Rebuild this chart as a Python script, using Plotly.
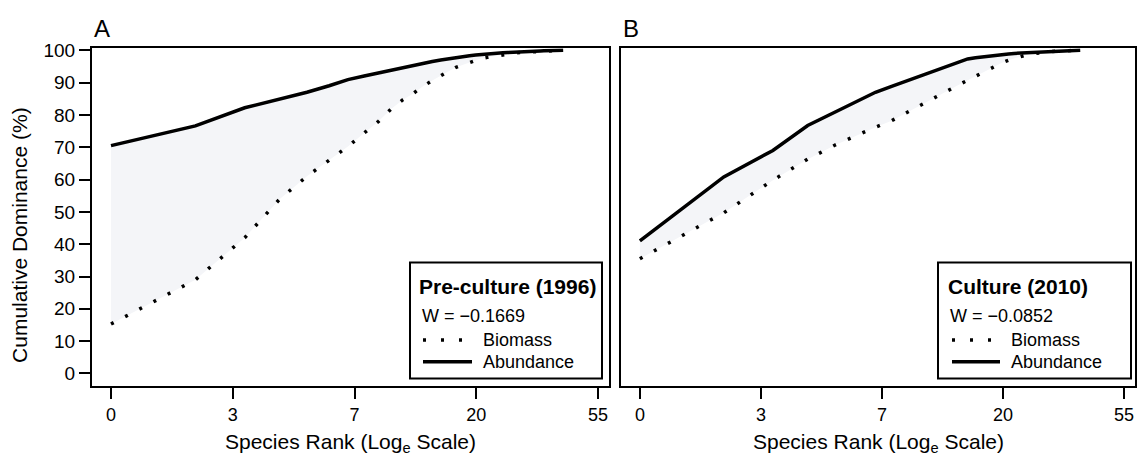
import math
import plotly.graph_objects as go

W, H = 1137, 457

# ---------------- data ----------------
rank_A = list(range(1, 42))
abundance_A = [70.5, 76.6, 82.2, 84.8, 87.0, 89.0, 90.9, 92.0, 93.0, 93.8,
               94.6, 95.3, 95.9, 96.5, 97.0, 97.4, 97.8, 98.1, 98.3, 98.5,
               98.7, 98.85, 99.0, 99.1, 99.2, 99.3, 99.4, 99.45, 99.5, 99.55,
               99.6, 99.65, 99.7, 99.75, 99.8, 99.85, 99.88, 99.91, 99.94, 99.97, 100.0]
biomass_A = [15.3, 29.0, 42.0, 54.0, 61.0, 66.1, 70.2, 74.4, 78.0, 81.9,
             84.7, 86.7, 88.9, 90.6, 92.2, 93.5, 94.7, 95.5, 96.2, 96.9,
             97.5, 97.8, 98.1, 98.4, 98.6, 98.9, 99.1, 99.2, 99.3, 99.4,
             99.5, 99.6, 99.65, 99.7, 99.75, 99.8, 99.85, 99.9, 99.93, 99.97, 100.0]

rank_B = list(range(1, 39))
abundance_B = [41.0, 60.8, 69.0, 76.7, 80.8, 84.3, 87.0, 88.8, 90.4, 91.6,
               92.9, 94.1, 95.2, 96.3, 97.3, 97.7, 98.0, 98.3, 98.5, 98.7,
               98.85, 99.0, 99.1, 99.2, 99.3, 99.4, 99.5, 99.55, 99.6, 99.65,
               99.7, 99.75, 99.8, 99.85, 99.9, 99.93, 99.96, 100.0]
biomass_B = [35.5, 49.7, 59.8, 66.3, 70.6, 73.7, 76.2, 78.2, 80.6, 82.7,
             84.7, 86.4, 88.0, 89.4, 90.7, 92.0, 93.2, 94.3, 95.3, 96.2,
             96.9, 97.5, 98.0, 98.4, 98.8, 99.0, 99.2, 99.4, 99.5, 99.6,
             99.7, 99.75, 99.8, 99.85, 99.9, 99.93, 99.96, 100.0]

x_tick_vals = [math.e ** k for k in range(5)]
x_tick_text = ["0", "3", "7", "20", "55"]
y_tick_vals = list(range(0, 101, 10))

panel_titles = ["Pre-culture (1996)", "Culture (2010)"]
w_stats = ["W = \u22120.1669", "W = \u22120.0852"]
panel_letters = ["A", "B"]

# ---------------- style ----------------
FONT = "Liberation Sans, Arial, Helvetica, sans-serif"
FILL = "#f4f5f8"
LW = 3.5
DOT = "3px,13px"


def px(x):
    return x / W


def py(y):
    return 1 - y / H


fig = go.Figure()

panels = [
    (rank_A, biomass_A, abundance_A, "x", "y"),
    (rank_B, biomass_B, abundance_B, "x2", "y2"),
]
for rk, bio, ab, xa, ya in panels:
    fig.add_trace(go.Scatter(x=rk, y=bio, mode="lines", xaxis=xa, yaxis=ya,
                             line=dict(color="black", width=LW, dash=DOT),
                             showlegend=False, hoverinfo="skip"))
    fig.add_trace(go.Scatter(x=rk, y=ab, mode="lines", xaxis=xa, yaxis=ya,
                             line=dict(color="black", width=LW),
                             fill="tonexty", fillcolor=FILL,
                             showlegend=False, hoverinfo="skip"))

x_range = [math.log10(math.exp(-0.156)), math.log10(math.exp(4.09))]
y_range = [-3.95, 100.6]
y_dom = [py(385), py(41)]

common_x = dict(type="log", range=x_range, tickvals=x_tick_vals, ticktext=x_tick_text,
                ticks="outside", ticklen=11, tickwidth=2, tickcolor="black",
                showline=True, linewidth=2, linecolor="black", mirror=True,
                showgrid=False, zeroline=False,
                tickfont=dict(family=FONT, size=18, color="black"))
common_y = dict(range=y_range, domain=y_dom, showline=True, linewidth=2,
                linecolor="black", mirror=True, showgrid=False, zeroline=False)

fig.update_layout(
    width=W, height=H,
    margin=dict(l=0, r=0, t=0, b=0),
    paper_bgcolor="white", plot_bgcolor="white",
    font=dict(family=FONT, color="black"),
    showlegend=False,
    xaxis=dict(domain=[px(92), px(609)], anchor="y", **common_x),
    xaxis2=dict(domain=[px(621), px(1135)], anchor="y2", **common_x),
    yaxis=dict(anchor="x", tickvals=y_tick_vals, ticks="outside", ticklen=11,
               tickwidth=2, tickcolor="black",
               tickfont=dict(family=FONT, size=19, color="black"), **common_y),
    yaxis2=dict(anchor="x2", showticklabels=False, ticks="", **common_y),
)

shapes = []
annotations = []

# legend boxes
legend_specs = [
    dict(box=(410, 259, 602, 377), head_x=417, w_x=420, samp_x=(423, 462, 472), txt_x=481),
    dict(box=(938, 259, 1131, 377), head_x=946, w_x=948, samp_x=(952, 991, 1000), txt_x=1009),
]
for i, spec in enumerate(legend_specs):
    x0, y0, x1, y1 = spec["box"]
    shapes.append(dict(type="rect", xref="paper", yref="paper",
                       x0=px(x0), x1=px(x1), y0=py(y1), y1=py(y0),
                       line=dict(color="black", width=2), fillcolor="white", layer="above"))
    annotations.append(dict(text="<b>" + panel_titles[i] + "</b>", xref="paper", yref="paper",
                            x=px(spec["head_x"]), y=py(283), xanchor="left", yanchor="middle",
                            showarrow=False, font=dict(family=FONT, size=21, color="black")))
    annotations.append(dict(text=w_stats[i], xref="paper", yref="paper",
                            x=px(spec["w_x"]), y=py(313), xanchor="left", yanchor="middle",
                            showarrow=False, font=dict(family=FONT, size=18, color="black")))
    sx0, sx1d, sx1s = spec["samp_x"]
    shapes.append(dict(type="line", xref="paper", yref="paper",
                       x0=px(sx0), x1=px(sx1d), y0=py(338), y1=py(338),
                       line=dict(color="black", width=LW, dash="3px,15px")))
    shapes.append(dict(type="line", xref="paper", yref="paper",
                       x0=px(sx0), x1=px(sx1s), y0=py(360), y1=py(360),
                       line=dict(color="black", width=LW)))
    annotations.append(dict(text="Biomass", xref="paper", yref="paper",
                            x=px(spec["txt_x"]), y=py(338), xanchor="left", yanchor="middle",
                            showarrow=False, font=dict(family=FONT, size=18, color="black")))
    annotations.append(dict(text="Abundance", xref="paper", yref="paper",
                            x=px(spec["txt_x"]), y=py(360), xanchor="left", yanchor="middle",
                            showarrow=False, font=dict(family=FONT, size=18, color="black")))

# panel letters
for letter, lx in zip(panel_letters, [92, 621]):
    annotations.append(dict(text=letter, xref="paper", yref="paper",
                            x=px(lx), y=py(21), xanchor="left", yanchor="middle",
                            showarrow=False, font=dict(family=FONT, size=24, color="black")))

# axis titles
for cx in [350.5, 878]:
    annotations.append(dict(text="Species Rank (Log<sub>e</sub> Scale)", xref="paper", yref="paper",
                            x=px(cx), y=py(443), xanchor="center", yanchor="middle",
                            showarrow=False, font=dict(family=FONT, size=21, color="black")))
annotations.append(dict(text="Cumulative Dominance (%)", xref="paper", yref="paper",
                        x=px(20), y=py(231), xanchor="center", yanchor="middle", textangle=-90,
                        showarrow=False, font=dict(family=FONT, size=21, color="black")))

fig.update_layout(shapes=shapes, annotations=annotations)

fig.write_html("out.html")
